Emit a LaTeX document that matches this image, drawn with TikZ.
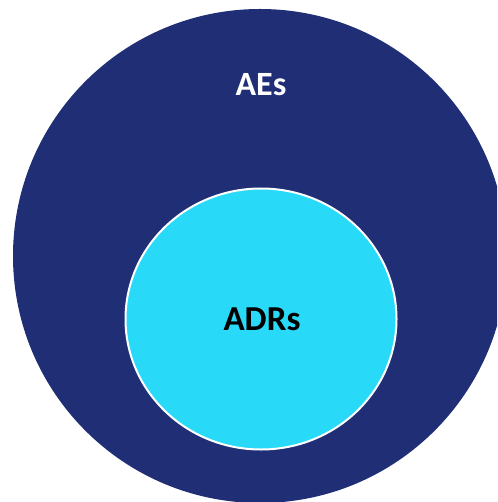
\documentclass[tikz,border=0pt]{standalone}
\usetikzlibrary{shapes.geometric}
\usepackage{fontspec}
\setmainfont{Carlito}
\definecolor{darkblue}{RGB}{31,46,117}
\definecolor{cyanfill}{RGB}{41,218,248}
\begin{document}
\begin{tikzpicture}[x=1pt,y=-1pt,
  outercircle/.style={fill=darkblue,draw=none},
  innercircle/.style={fill=cyanfill,draw=white,line width=2pt},
  labeltext/.style={font=\bfseries\fontsize{#1}{#1}\selectfont,inner sep=0pt}]
\useasboundingbox (0,0) rectangle (497,502);
\begin{scope}
\clip (0,0) rectangle (497,502);
\node[outercircle,circle,minimum size=494pt,inner sep=0pt] (outer) at (260,256) {};
\end{scope}
\node[innercircle,ellipse,minimum width=271pt,minimum height=261pt,inner sep=0pt] (inner) at (261,319) {};
\node[labeltext=34,text=white] (aes) at (261,85) {AEs};
\node[labeltext=35,text=black] (adrs) at (262,319) {ADRs};
\end{tikzpicture}
\end{document}
